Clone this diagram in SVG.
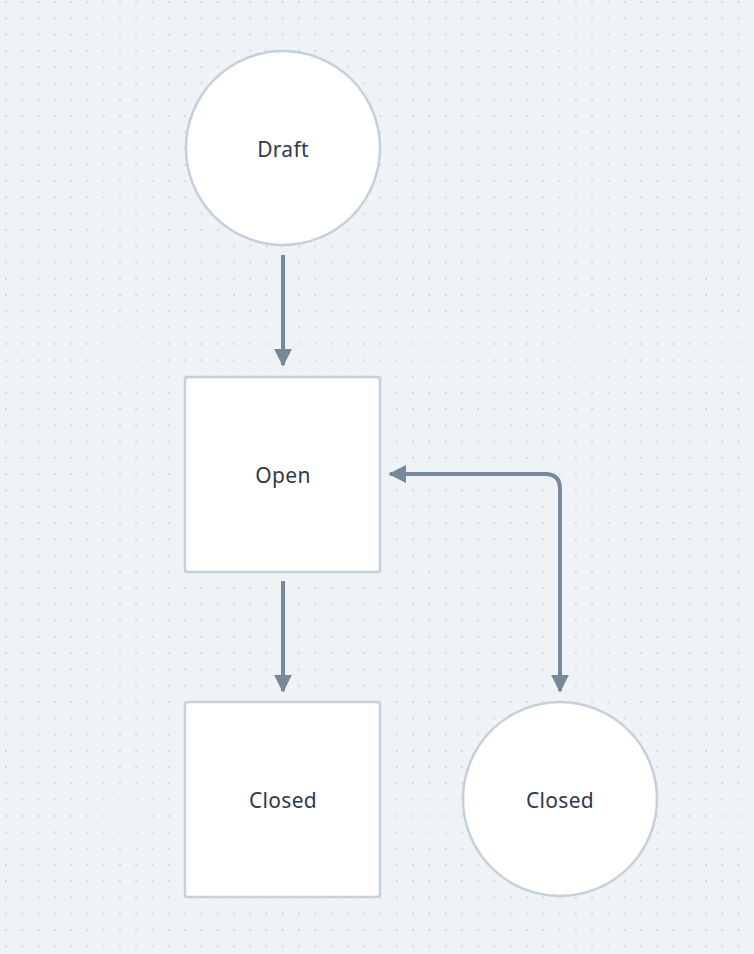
<svg xmlns="http://www.w3.org/2000/svg" width="754" height="954" viewBox="0 0 754 954">
<style>
.node{fill:#ffffff;stroke:#c6d0db;stroke-width:2.5}
.lbl{font-family:"Noto Sans","DejaVu Sans",sans-serif;font-size:21px;font-weight:400;fill:#2d3a4b;text-anchor:middle;dominant-baseline:central;letter-spacing:0.3px}
.edge{fill:none;stroke:#77889a;stroke-width:4}
</style>
<defs>
<pattern id="dots" x="6" y="2" width="16.28" height="16.28" patternUnits="userSpaceOnUse">
<circle cx="0" cy="0" r="1" fill="#c8d2de"/>
<circle cx="16.28" cy="0" r="1" fill="#c8d2de"/>
<circle cx="0" cy="16.28" r="1" fill="#c8d2de"/>
<circle cx="16.28" cy="16.28" r="1" fill="#c8d2de"/>
</pattern>
<marker id="ah" viewBox="0 0 10 10" refX="9" refY="5" markerWidth="4.5" markerHeight="4.5" orient="auto-start-reverse" markerUnits="strokeWidth">
<path d="M0,0 L10,5 L0,10 Z" fill="#77889a"/>
</marker>
</defs>
<rect width="754" height="954" fill="#eff3f6"/>
<rect width="754" height="954" fill="url(#dots)"/>
<g id="connectors">
<path class="edge" d="M283 255 V365" marker-end="url(#ah)"/>
<path class="edge" d="M283 581 V691" marker-end="url(#ah)"/>
<path class="edge" d="M390 474 H545 Q560 474 560 489 V691" marker-start="url(#ah)" marker-end="url(#ah)"/>
</g>
<g id="node-draft">
<circle class="node" cx="283" cy="148" r="97"/>
<text class="lbl" x="283" y="149">Draft</text>
</g>
<g id="node-open">
<rect class="node" x="185" y="377" width="195" height="195" rx="3"/>
<text class="lbl" x="283" y="475">Open</text>
</g>
<g id="node-closed-rect">
<rect class="node" x="185" y="702" width="195" height="195" rx="3"/>
<text class="lbl" x="283" y="800">Closed</text>
</g>
<g id="node-closed-circle">
<circle class="node" cx="560" cy="799" r="97"/>
<text class="lbl" x="560" y="800">Closed</text>
</g>
</svg>
